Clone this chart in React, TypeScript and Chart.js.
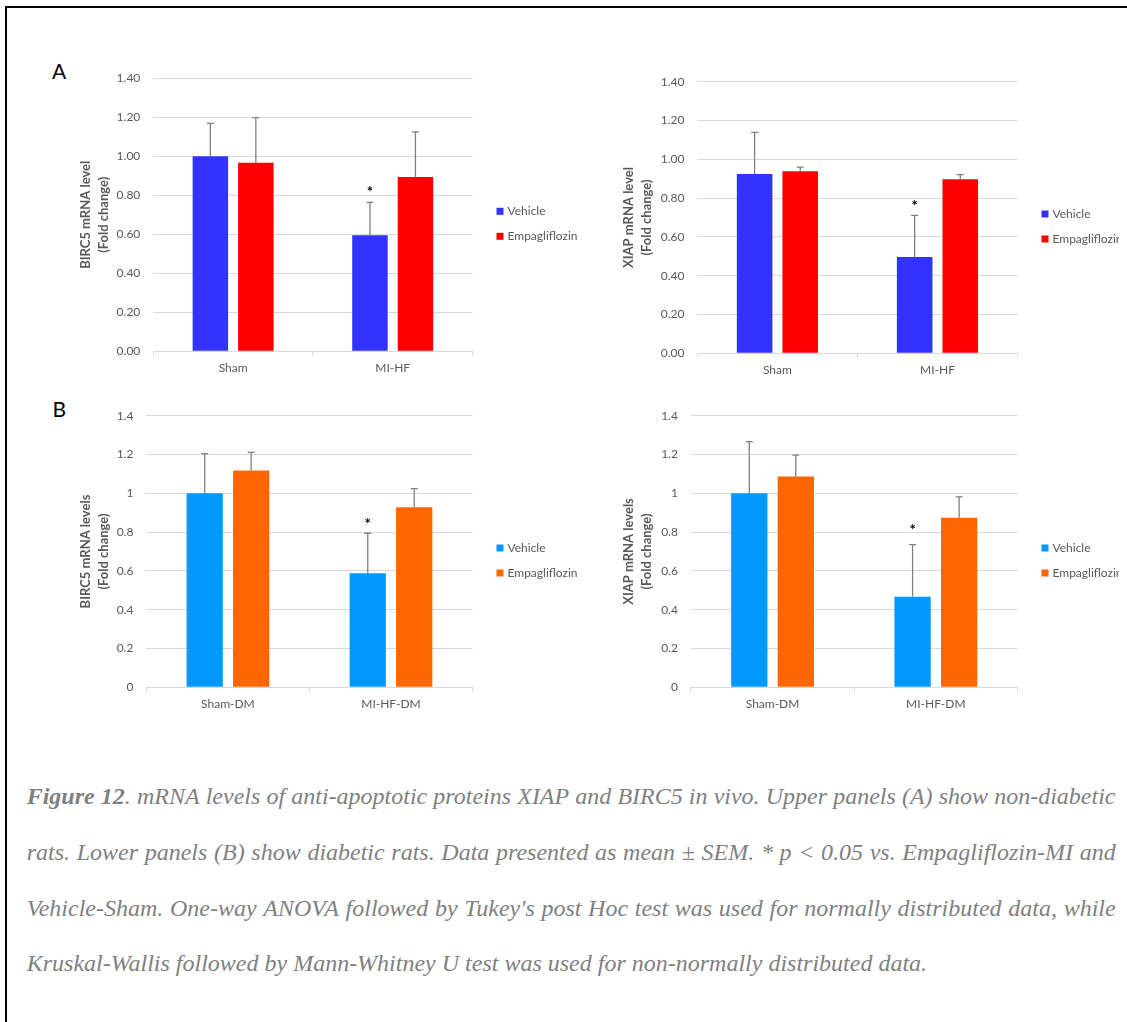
import React, { useEffect, useRef } from "react";
import { Chart, registerables } from "chart.js";

Chart.register(...registerables);

const FONT = "Lato, 'Noto Sans', sans-serif";
const TEXT_GRAY = "#595959";
const GRID_GRAY = "#d9d9d9";
const ERR_GRAY = "#808080";

// ---------- data ----------
const CATEGORIES_NON_DIABETIC = ["Sham", "MI-HF"];
const CATEGORIES_DIABETIC = ["Sham-DM", "MI-HF-DM"];
const SERIES_NAMES = ["Vehicle", "Empagliflozin"];

const TICKS_TWO_DECIMALS = ["0.00", "0.20", "0.40", "0.60", "0.80", "1.00", "1.20", "1.40"];
const TICKS_GENERAL = ["0", "0.2", "0.4", "0.6", "0.8", "1", "1.2", "1.4"];

const COLORS_A = ["#3333ff", "#ff0000"];
const COLORS_B = ["#0099ff", "#ff6600"];

// Panel A (non-diabetic) BIRC5
const BIRC5_A_VEHICLE = [1.0, 0.595];
const BIRC5_A_VEHICLE_SEM = [0.169, 0.169];
const BIRC5_A_EMPA = [0.967, 0.894];
const BIRC5_A_EMPA_SEM = [0.231, 0.231];
const BIRC5_A_STAR = [null, 0.834];

// Panel A (non-diabetic) XIAP
const XIAP_A_VEHICLE = [0.924, 0.496];
const XIAP_A_VEHICLE_SEM = [0.215, 0.215];
const XIAP_A_EMPA = [0.938, 0.897];
const XIAP_A_EMPA_SEM = [0.022, 0.024];
const XIAP_A_STAR = [null, 0.775];

// Panel B (diabetic) BIRC5
const BIRC5_B_VEHICLE = [1.0, 0.588];
const BIRC5_B_VEHICLE_SEM = [0.204, 0.206];
const BIRC5_B_EMPA = [1.117, 0.928];
const BIRC5_B_EMPA_SEM = [0.094, 0.096];
const BIRC5_B_STAR = [null, 0.854];

// Panel B (diabetic) XIAP
const XIAP_B_VEHICLE = [1.0, 0.467];
const XIAP_B_VEHICLE_SEM = [0.266, 0.268];
const XIAP_B_EMPA = [1.086, 0.874];
const XIAP_B_EMPA_SEM = [0.111, 0.108];
const XIAP_B_STAR = [null, 0.828];

const CAPTION_LINES = [
  "Figure 12. mRNA levels of anti-apoptotic proteins XIAP and BIRC5 in vivo. Upper panels (A) show non-diabetic",
  "rats. Lower panels (B) show diabetic rats. Data presented as mean ± SEM. * p < 0.05 vs. Empagliflozin-MI and",
  "Vehicle-Sham. One-way ANOVA followed by Tukey's post Hoc test was used for normally distributed data, while",
  "Kruskal-Wallis followed by Mann-Whitney U test was used for non-normally distributed data.",
];

// ---------- plugins ----------
const errorBarPlugin = {
  id: "errorBars",
  afterDatasetsDraw(chart: any) {
    const ctx = chart.ctx;
    const y = chart.scales.y;
    chart.data.datasets.forEach((ds: any, i: number) => {
      const meta = chart.getDatasetMeta(i);
      meta.data.forEach((bar: any, j: number) => {
        const v = ds.data[j];
        const e = ds.sem ? ds.sem[j] : null;
        if (e == null || v == null) return;
        const yTop = y.getPixelForValue(v + e);
        const yBase = y.getPixelForValue(v);
        ctx.save();
        ctx.strokeStyle = ERR_GRAY;
        ctx.lineWidth = 1.3;
        ctx.beginPath();
        ctx.moveTo(bar.x, yBase);
        ctx.lineTo(bar.x, yTop);
        ctx.moveTo(bar.x - 3.5, yTop);
        ctx.lineTo(bar.x + 3.5, yTop);
        ctx.stroke();
        ctx.restore();
      });
    });
  },
};

const starPlugin = {
  id: "sigStars",
  afterDatasetsDraw(chart: any) {
    const ctx = chart.ctx;
    const y = chart.scales.y;
    chart.data.datasets.forEach((ds: any, i: number) => {
      if (!ds.stars) return;
      const meta = chart.getDatasetMeta(i);
      meta.data.forEach((bar: any, j: number) => {
        const s = ds.stars[j];
        if (s == null) return;
        ctx.save();
        ctx.fillStyle = "#000";
        ctx.font = `bold 15px ${FONT}`;
        ctx.textAlign = "center";
        ctx.textBaseline = "middle";
        ctx.fillText("*", bar.x, y.getPixelForValue(s) + 3);
        ctx.restore();
      });
    });
  },
};

const sideLegendPlugin = {
  id: "sideLegend",
  afterDraw(chart: any) {
    const { ctx, chartArea } = chart;
    const cy = (chartArea.top + chartArea.bottom) / 2;
    const x = chartArea.right + 24;
    chart.data.datasets.forEach((ds: any, i: number) => {
      const yy = cy - 3.5 + i * 25;
      ctx.save();
      ctx.fillStyle = ds.backgroundColor;
      ctx.fillRect(x, yy - 3.5, 7, 7);
      ctx.fillStyle = TEXT_GRAY;
      ctx.font = `12px ${FONT}`;
      ctx.textAlign = "left";
      ctx.textBaseline = "middle";
      ctx.fillText(ds.label, x + 11, yy);
      ctx.restore();
    });
  },
};

// ---------- panels ----------
type PanelCfg = {
  x: number;
  y: number;
  w: number;
  h: number;
  area: { l: number; t: number; r: number; b: number };
  titleX: number;
  categories: string[];
  yTitle: string[];
  tickLabels: string[];
  colors: string[];
  vehicle: number[];
  vehicleSem: number[];
  empa: number[];
  empaSem: number[];
  stars: (number | null)[];
};

const X_AXIS_H = 30;

const PANELS: PanelCfg[] = [
  {
    x: 10, y: 40, w: 600, h: 350,
    area: { l: 153.3, t: 78.3, r: 472.5, b: 351.3 },
    titleX: 85.7,
    categories: CATEGORIES_NON_DIABETIC,
    yTitle: ["BIRC5 mRNA level", "(Fold change)"],
    tickLabels: TICKS_TWO_DECIMALS,
    colors: COLORS_A,
    vehicle: BIRC5_A_VEHICLE, vehicleSem: BIRC5_A_VEHICLE_SEM,
    empa: BIRC5_A_EMPA, empaSem: BIRC5_A_EMPA_SEM,
    stars: BIRC5_A_STAR,
  },
  {
    x: 570, y: 40, w: 549, h: 350,
    area: { l: 697.4, t: 81.7, r: 1017.5, b: 353.3 },
    titleX: 628.7,
    categories: CATEGORIES_NON_DIABETIC,
    yTitle: ["XIAP mRNA level", "(Fold change)"],
    tickLabels: TICKS_TWO_DECIMALS,
    colors: COLORS_A,
    vehicle: XIAP_A_VEHICLE, vehicleSem: XIAP_A_VEHICLE_SEM,
    empa: XIAP_A_EMPA, empaSem: XIAP_A_EMPA_SEM,
    stars: XIAP_A_STAR,
  },
  {
    x: 10, y: 392, w: 600, h: 340,
    area: { l: 146.4, t: 415.7, r: 472.5, b: 687.3 },
    titleX: 85.7,
    categories: CATEGORIES_DIABETIC,
    yTitle: ["BIRC5 mRNA levels", "(Fold change)"],
    tickLabels: TICKS_GENERAL,
    colors: COLORS_B,
    vehicle: BIRC5_B_VEHICLE, vehicleSem: BIRC5_B_VEHICLE_SEM,
    empa: BIRC5_B_EMPA, empaSem: BIRC5_B_EMPA_SEM,
    stars: BIRC5_B_STAR,
  },
  {
    x: 570, y: 392, w: 549, h: 340,
    area: { l: 690.9, t: 415.7, r: 1017.5, b: 687.3 },
    titleX: 628.7,
    categories: CATEGORIES_DIABETIC,
    yTitle: ["XIAP mRNA levels", "(Fold change)"],
    tickLabels: TICKS_GENERAL,
    colors: COLORS_B,
    vehicle: XIAP_B_VEHICLE, vehicleSem: XIAP_B_VEHICLE_SEM,
    empa: XIAP_B_EMPA, empaSem: XIAP_B_EMPA_SEM,
    stars: XIAP_B_STAR,
  },
];

function Panel({ cfg }: { cfg: PanelCfg }) {
  const ref = useRef<HTMLCanvasElement>(null);
  useEffect(() => {
    const yW = cfg.area.l - cfg.x;
    const padTop = cfg.area.t - cfg.y;
    const padRight = cfg.x + cfg.w - cfg.area.r;
    const padBottom = cfg.y + cfg.h - cfg.area.b - X_AXIS_H;
    const titleLH = 18;
    const titlePad = cfg.titleX - cfg.x - titleLH / 2;
    const chart = new Chart(ref.current as HTMLCanvasElement, {
      type: "bar",
      data: {
        labels: cfg.categories,
        datasets: [
          {
            label: SERIES_NAMES[0],
            data: cfg.vehicle,
            sem: cfg.vehicleSem,
            stars: cfg.stars,
            backgroundColor: cfg.colors[0],
            borderWidth: 0,
            categoryPercentage: 0.57,
            barPercentage: 0.78,
          } as any,
          {
            label: SERIES_NAMES[1],
            data: cfg.empa,
            sem: cfg.empaSem,
            backgroundColor: cfg.colors[1],
            borderWidth: 0,
            categoryPercentage: 0.57,
            barPercentage: 0.78,
          } as any,
        ],
      },
      options: {
        responsive: false,
        animation: false,
        events: [],
        layout: { padding: { left: 0, top: padTop, right: padRight, bottom: padBottom } },
        plugins: { legend: { display: false }, tooltip: { enabled: false } },
        scales: {
          x: {
            type: "category",
            offset: true,
            grid: {
              display: true,
              drawOnChartArea: false,
              drawTicks: true,
              tickLength: 4,
              color: GRID_GRAY,
              offset: true,
            },
            border: { display: true, color: GRID_GRAY, width: 1 },
            ticks: { color: TEXT_GRAY, font: { family: FONT, size: 12 }, padding: 6, maxRotation: 0 },
            afterFit: (s: any) => {
              s.height = X_AXIS_H;
            },
          },
          y: {
            min: 0,
            max: 1.4,
            ticks: {
              stepSize: 0.2,
              color: TEXT_GRAY,
              font: { family: FONT, size: 12 },
              padding: 13,
              callback: (v: any, i: number) => cfg.tickLabels[i] ?? String(v),
            },
            grid: { color: GRID_GRAY, drawTicks: false, lineWidth: 1 },
            border: { display: false },
            title: {
              display: true,
              text: cfg.yTitle,
              color: TEXT_GRAY,
              font: { family: FONT, size: 13, weight: "bold", lineHeight: titleLH / 13 },
              padding: { top: titlePad, bottom: 0 },
            },
            afterFit: (s: any) => {
              s.width = yW;
            },
          },
        },
      } as any,
      plugins: [errorBarPlugin, starPlugin, sideLegendPlugin],
    });
    return () => chart.destroy();
  }, [cfg]);
  return (
    <canvas
      ref={ref}
      width={cfg.w}
      height={cfg.h}
      style={{ position: "absolute", left: cfg.x, top: cfg.y, width: cfg.w, height: cfg.h }}
    />
  );
}

// ---------- caption ----------
const CAP_FONT_SIZE = 24;
const CAP_LEFT = 26.7;
const CAP_WIDTH = 1089;
const CAP_BASELINES = [804.3, 860, 916, 971];

function renderWords(line: string, li: number) {
  const words = line.split(" ");
  return words.map((w, wi) => {
    if (li === 0 && wi === 0) return <span key={wi}><b>Figure</b></span>;
    if (li === 0 && wi === 1) return <span key={wi}><b>12</b>.</span>;
    return <span key={wi}>{w}</span>;
  });
}

function Caption() {
  return (
    <>
      {CAPTION_LINES.map((line, li) => {
        const last = li === CAPTION_LINES.length - 1;
        const base: React.CSSProperties = {
          position: "absolute",
          left: CAP_LEFT,
          top: CAP_BASELINES[li] - 0.837 * CAP_FONT_SIZE,
          width: CAP_WIDTH,
          fontFamily: "'Liberation Serif', 'Times New Roman', serif",
          fontStyle: "italic",
          fontSize: CAP_FONT_SIZE,
          lineHeight: `${CAP_FONT_SIZE}px`,
          color: "#808080",
          whiteSpace: "nowrap",
        };
        if (last) return <div key={li} style={base}>{line}</div>;
        return (
          <div key={li} style={{ ...base, display: "flex", justifyContent: "space-between" }}>
            {renderWords(line, li)}
          </div>
        );
      })}
    </>
  );
}

export default function App() {
  return (
    <div
      style={{
        position: "absolute",
        left: 0,
        top: 0,
        width: 1127,
        height: 1022,
        overflow: "hidden",
        background: "#ffffff",
      }}
    >
      <div
        style={{
          position: "absolute",
          left: 5,
          top: 6,
          width: 2000,
          height: 2000,
          borderLeft: "2px solid #000",
          borderTop: "2px solid #000",
        }}
      />
      <div style={{ position: "absolute", left: 52, top: 59.8, fontFamily: FONT, fontSize: 21, lineHeight: "21px", color: "#000" }}>A</div>
      <div style={{ position: "absolute", left: 52.5, top: 398.2, fontFamily: FONT, fontSize: 21, lineHeight: "21px", color: "#000" }}>B</div>
      {PANELS.map((p, i) => (
        <Panel key={i} cfg={p} />
      ))}
      <Caption />
    </div>
  );
}
